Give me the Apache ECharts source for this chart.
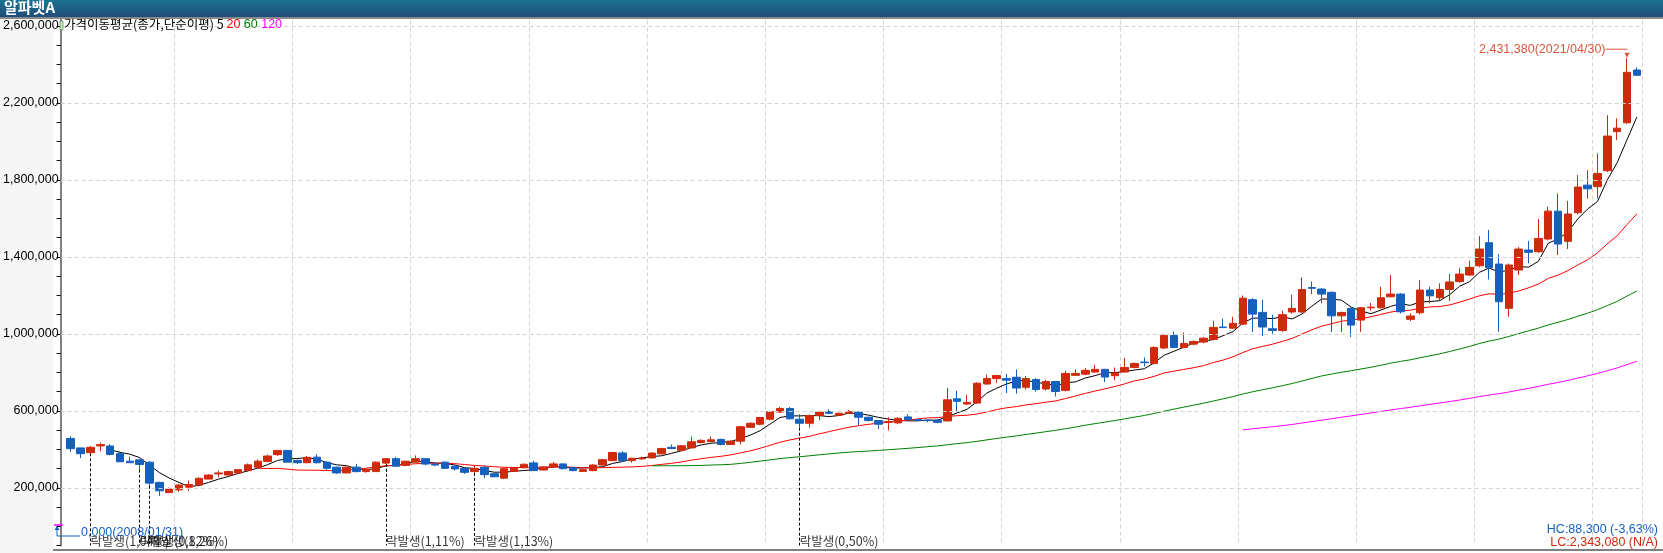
<!DOCTYPE html>
<html>
<head>
<meta charset="utf-8">
<title>알파벳A</title>
<script src="https://cdn.jsdelivr.net/npm/echarts@6/dist/echarts.min.js"></script>
<style>
  html, body { margin: 0; padding: 0; background: #fff; }
  #chart { width: 1663px; height: 553px; }
</style>
</head>
<body>
<div id="chart"></div>
<script>
// 월봉 시가/종가/고가/저가 (단위: 천원)
var opens = [456,407,382,417,417,377,338,345,333,228,175,189,203,214,245,272,266,277,289,307,
  337,372,394,342,330,359,333,307,277,307,284,284,328,351,316,333,351,323,333,312,
  301,284,306,273,250,285,304,329,292,308,324,305,285,289,318,341,381,341,350,355,
  376,410,395,407,435,440,451,425,442,514,530,556,593,612,556,535,575,596,577,587,
  593,566,549,540,537,568,554,551,551,547,662,635,640,739,767,767,774,722,762,713,
  752,706,784,790,801,815,782,801,825,853,846,926,991,929,946,957,971,1035,1029,1050,
  1177,1111,1026,1017,1113,1113,1240,1232,1215,1093,1132,1071,1135,1135,1192,1206,1075,1109,1227,1187,
  1230,1271,1305,1353,1473,1362,1132,1331,1435,1426,1492,1637,1480,1629,1772,1764,1847,2050,2096,2370];
var closes = [403,377,410,424,373,335,330,321,224,184,193,214,217,249,266,277,284,294,319,338,
  365,394,333,330,358,330,301,277,307,284,296,333,351,312,338,351,323,318,301,298,
  280,301,268,257,299,302,322,289,308,324,299,289,294,318,346,383,341,353,353,380,
  404,404,418,439,446,449,425,442,517,535,565,596,612,558,535,575,593,587,587,596,
  566,549,530,544,561,554,549,549,540,657,649,643,743,767,783,759,718,767,710,752,
  700,794,794,810,815,775,796,825,846,850,929,991,929,950,960,977,1033,1032,1054,1185,
  1102,1035,1017,1099,1132,1230,1236,1206,1093,1110,1045,1135,1138,1187,1206,1114,1092,1227,1197,1230,
  1269,1310,1345,1440,1343,1166,1357,1440,1423,1495,1637,1466,1622,1762,1753,1833,2027,2068,2358,2343.08];
var highs = [468,407,417,435,426,389,361,351,337,231,201,219,237,254,270,289,289,298,326,347,
  372,394,396,347,365,375,337,310,307,324,300,337,354,359,340,368,354,328,337,315,
  305,315,316,275,301,305,326,340,310,334,326,308,296,322,350,386,390,356,362,384,
  408,425,422,466,452,466,455,446,520,540,568,600,620,619,582,580,600,608,590,605,
  598,570,552,566,566,582,558,556,556,718,704,683,748,788,783,792,815,780,770,760,
  755,808,815,822,839,818,825,874,850,877,935,1000,1012,1007,965,982,1068,1078,1088,1199,
  1185,1177,1099,1119,1203,1293,1272,1237,1220,1115,1135,1140,1160,1244,1305,1210,1106,1279,1244,1262,
  1310,1340,1380,1507,1539,1414,1365,1450,1482,1596,1660,1729,1690,1824,1850,1937,2136,2119,2431.38,2384];
var lows = [386,354,379,389,368,333,330,294,210,158,172,179,184,219,245,254,263,272,284,301,
  333,365,333,324,328,326,291,272,275,280,278,284,324,312,312,330,316,312,298,289,
  272,277,250,255,245,282,300,287,290,305,296,285,282,286,315,338,338,330,345,352,
  372,400,390,404,430,436,420,422,425,510,525,550,590,555,512,512,551,582,572,585,
  525,545,505,498,530,550,545,540,535,545,596,630,635,735,745,692,689,710,700,705,
  674,700,780,785,798,749,759,798,820,830,840,920,925,925,940,950,965,1030,1025,1045,
  1009,988,1000,1010,1105,1108,1206,1158,1009,1009,983,1010,1120,1130,1190,1105,1066,1100,1158,1175,
  1170,1265,1300,1345,1282,1010,1088,1305,1366,1420,1485,1409,1440,1620,1702,1703,1840,2006,2090,2340];

var maPeriods = [5, 20, 60, 120];
var maColors = ['#000000', '#ff0000', '#008000', '#ff00ff'];

// 락발생 표시
var eventIdx = [2, 7, 8, 32, 41, 74];
var eventText = ['락발생(1,04%)', '락발생(0,82%)', '락발생(1,26%)', '락발생(1,11%)', '락발생(1,13%)', '락발생(0,50%)'];

var yTicks = [200000, 600000, 1000000, 1400000, 1800000, 2200000, 2600000];

var categories = [];
for (var y = 2008; y <= 2021; y++) {
  for (var m = 1; m <= 12; m++) {
    if (categories.length < opens.length) categories.push(y + '/' + (m < 10 ? '0' + m : m));
  }
}

var K = 1000;
var candle = opens.map(function (o, i) {
  return [o * K, closes[i] * K, lows[i] * K, highs[i] * K];
});

function ma(n) {
  var out = [];
  for (var i = 0; i < closes.length; i++) {
    if (i < n - 1) { out.push(null); continue; }
    var s = 0;
    for (var j = i - n + 1; j <= i; j++) s += closes[j];
    out.push(Math.round(s / n * K));
  }
  return out;
}

var UP = '#d02a0c', DOWN = '#1560bd';
var font = 'Liberation Sans, Noto Sans CJK KR, sans-serif';
var Y_MIN = -100000, Y_MAX = 2700000;

var chart = echarts.init(document.getElementById('chart'));

var maSeries = maPeriods.map(function (p, k) {
  return {
    type: 'line', name: 'MA' + p, data: ma(p), xAxisIndex: 0, yAxisIndex: 0,
    showSymbol: false, symbol: 'none', silent: true, z: 3,
    lineStyle: { color: maColors[k], width: 1 }
  };
});

var option = {
  animation: false,
  backgroundColor: '#ffffff',
  grid: [
    { left: 65.8, right: 21.2, top: 6.5, bottom: 7.5 },
    { left: 53, right: 21.2, top: 6.5, bottom: 7.5 }
  ],
  xAxis: [
    {
      type: 'category', data: categories, gridIndex: 0, boundaryGap: true,
      axisLine: { show: false }, axisTick: { show: false }, axisLabel: { show: false },
      splitLine: {
        show: true,
        interval: function (index) { return index % 12 === 11; },
        lineStyle: { color: '#d3d3d3', type: [4, 3] }
      }
    },
    { type: 'value', gridIndex: 1, min: 0, max: 1, show: false }
  ],
  yAxis: [
    { type: 'value', gridIndex: 0, min: Y_MIN, max: Y_MAX, show: false, splitLine: { show: false } },
    {
      type: 'value', gridIndex: 1, min: Y_MIN, max: Y_MAX, interval: 100000,
      axisLine: { show: true, lineStyle: { color: '#808080', width: 2 } },
      axisTick: { show: true, length: 4, lineStyle: { color: '#000' } },
      axisLabel: {
        color: '#000', fontSize: 12.5, fontFamily: font, margin: 2,
        formatter: function (v) { return yTicks.indexOf(v) >= 0 ? v.toLocaleString('en-US') : ''; }
      },
      splitLine: { show: false }
    }
  ],
  graphic: [
    { type: 'rect', z: -10, shape: { x: 0, y: 17, width: 53, height: 536 }, style: { fill: '#f5f5f5' } },
    { type: 'rect', z: 100, shape: { x: 0, y: 0, width: 1663, height: 17 },
      style: { fill: new echarts.graphic.LinearGradient(0, 0, 0, 1, [
        { offset: 0, color: '#1b7392' }, { offset: 1, color: '#214c77' }]) } },
    { type: 'rect', z: 100, shape: { x: 0, y: 17, width: 1663, height: 2 }, style: { fill: '#8a8a8a' } },
    { type: 'text', z: 101, left: 4, top: 0,
      style: { text: '알파벳A', fill: '#fff', font: 'bold 15px Noto Sans CJK KR' } },
    { type: 'rect', z: 50, shape: { x: 53, y: 549, width: 1610, height: 2 }, style: { fill: '#808080' } },
    { type: 'rect', z: 60, shape: { x: 60, y: 21, width: 3, height: 9 },
      style: { fill: '#b8f0b0', stroke: '#444', lineWidth: 0.5 } },
    { type: 'text', z: 60, left: 64, top: 18,
      style: {
        text: '{a|가격이동평균(종가,단순이평) 5 }{b|20 }{c|60 }{d|120}',
        rich: {
          a: { fill: '#000', fontSize: 12.5, fontFamily: 'Noto Sans CJK KR' },
          b: { fill: '#ff0000', fontSize: 12.5, fontFamily: font },
          c: { fill: '#008000', fontSize: 12.5, fontFamily: font },
          d: { fill: '#ff00ff', fontSize: 12.5, fontFamily: font }
        }
      } },
    { type: 'line', z: 60, shape: { x1: 54, y1: 525, x2: 63, y2: 525 }, style: { stroke: '#ff00ff', lineWidth: 1.5 } },
    { type: 'polyline', z: 60, shape: { points: [[57, 527], [57, 536], [80, 536]] }, style: { stroke: '#1560bd', lineWidth: 1, fill: null } },
    { type: 'polygon', z: 60, shape: { points: [[54.5, 530], [57, 526], [59.5, 530]] }, style: { fill: '#1560bd' } },
    { type: 'text', z: 60, left: 81, top: 526,
      style: { text: '0,000(2008/01/31)', fill: '#1560bd', font: '12.5px Liberation Sans' } },
    { type: 'text', z: 60, right: 5, top: 523,
      style: { text: 'HC:88,300 (-3,63%)', fill: '#1560bd', font: '12.5px Liberation Sans', align: 'right' } },
    { type: 'text', z: 60, right: 5, top: 536,
      style: { text: 'LC:2,343,080 (N/A)', fill: '#d02a0c', font: '12.5px Liberation Sans', align: 'right' } }
  ],
  series: [
    {
      // 가로 점선 격자 (400,000 간격)
      type: 'line', xAxisIndex: 1, yAxisIndex: 1, data: [], silent: true, z: 1,
      markLine: {
        silent: true, symbol: 'none', animation: false, label: { show: false },
        lineStyle: { color: '#d3d3d3', type: [4, 3], width: 1 },
        data: yTicks.map(function (v) { return { yAxis: v }; })
      }
    },
    {
      type: 'candlestick', data: candle, xAxisIndex: 0, yAxisIndex: 0, barWidth: 8, z: 4,
      itemStyle: { color: UP, color0: DOWN, borderColor: UP, borderColor0: DOWN, borderWidth: 1 },
      markLine: {
        silent: true, symbol: 'none', animation: false,
        lineStyle: { color: '#000', type: [3, 2], width: 1 },
        label: { show: false },
        data: eventIdx.map(function (i) {
          return [{ coord: [i, lows[i] * K] }, { coord: [i, Y_MIN] }];
        })
      }
    }
  ].concat(maSeries).concat([
    {
      type: 'scatter', xAxisIndex: 0, yAxisIndex: 0, symbolSize: 0, silent: true, z: 6,
      data: eventIdx.map(function (i, k) { return { value: [i, -80000], name: eventText[k] }; }),
      label: { show: true, position: 'right', distance: 0, color: '#000', fontSize: 12.5,
        fontFamily: 'Noto Sans CJK KR', formatter: '{b}' }
    },
    {
      type: 'scatter', xAxisIndex: 0, yAxisIndex: 0, silent: true, z: 6,
      symbol: 'triangle', symbolRotate: 180, symbolSize: 5, symbolOffset: [0, -3],
      itemStyle: { color: UP },
      data: [{ value: [highs.length - 2, highs[highs.length - 2] * K],
        name: (highs[highs.length - 2] * K).toLocaleString('en-US') + '(2021/04/30)' }],
      label: {
        show: true, position: 'left', distance: 0, offset: [3, -6],
        formatter: '{t|{b}}{ln|}',
        rich: {
          t: { color: UP, fontSize: 12.5, fontFamily: font },
          ln: { width: 22, height: 1, backgroundColor: UP }
        }
      }
    }
  ])
};
chart.setOption(option);
</script>
</body>
</html>
